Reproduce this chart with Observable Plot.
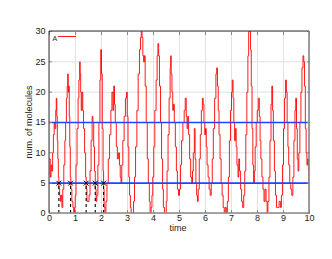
<!DOCTYPE html>
<html>
<head>
<meta charset="utf-8">
<script src="https://cdn.jsdelivr.net/npm/d3@7"></script>
<script src="https://cdn.jsdelivr.net/npm/@observablehq/plot@0.6"></script>
<style>
  html, body { margin: 0; padding: 0; background: #fff; }
  #chart svg { display: block; font-family: "Liberation Sans", Arial, sans-serif; }
</style>
</head>
<body>
<div id="chart"></div>
<script>
// ---- data ----
const times = [0.00,0.03,0.06,0.09,0.12,0.15,0.18,0.21,0.24,0.26,0.28,0.30,0.32,0.34,0.36,0.39,0.42,0.45,0.48,0.51,0.55,0.59,0.62,0.65,0.68,0.70,0.72,0.74,0.76,0.78,0.80,0.82,0.86,0.90,0.93,0.96,0.99,
1.02,1.06,1.10,1.13,1.16,1.18,1.20,1.22,1.25,1.28,1.31,1.35,1.39,1.41,1.44,1.48,1.52,1.56,1.60,1.64,1.67,1.70,1.73,1.76,1.79,1.82,1.86,1.90,1.94,1.97,
2.00,2.03,2.06,2.08,2.10,2.13,2.17,2.21,2.26,2.31,2.36,2.40,2.44,2.47,2.50,2.53,2.57,2.61,2.65,2.69,2.72,2.75,2.78,2.82,2.87,2.92,2.96,2.99,
3.02,3.05,3.08,3.11,3.14,3.19,3.23,3.27,3.31,3.36,3.41,3.46,3.50,3.53,3.56,3.59,3.62,3.65,3.68,3.72,3.76,3.80,3.84,3.87,3.91,3.94,3.97,
4.01,4.05,4.10,4.14,4.17,4.20,4.23,4.27,4.31,4.35,4.38,4.42,4.46,4.49,4.52,4.56,4.60,4.64,4.66,4.68,4.71,4.74,4.77,4.80,4.84,4.88,4.92,4.96,
5.00,5.04,5.08,5.13,5.18,5.22,5.26,5.29,5.32,5.35,5.39,5.43,5.47,5.50,5.53,5.57,5.60,5.63,5.66,5.69,5.72,5.76,5.80,5.84,5.88,5.91,5.94,5.97,
6.00,6.03,6.06,6.10,6.14,6.18,6.22,6.26,6.30,6.35,6.40,6.43,6.46,6.49,6.52,6.56,6.60,6.64,6.68,6.72,6.76,6.80,6.84,6.88,6.92,6.96,
7.00,7.03,7.06,7.09,7.12,7.15,7.18,7.21,7.25,7.28,7.31,7.35,7.39,7.43,7.47,7.51,7.55,7.59,7.63,7.66,7.70,7.73,7.76,7.79,7.82,7.85,7.88,7.91,7.95,7.99,
8.03,8.07,8.10,8.13,8.17,8.21,8.25,8.29,8.33,8.37,8.40,8.44,8.48,8.52,8.55,8.58,8.61,8.65,8.69,8.73,8.78,8.83,8.88,8.92,8.96,
9.00,9.04,9.08,9.11,9.14,9.17,9.20,9.24,9.28,9.32,9.36,9.40,9.44,9.47,9.50,9.53,9.56,9.59,9.63,9.67,9.71,9.75,9.78,9.81,9.84,9.87,9.90,9.93,9.96,9.98,10.00];
const counts = [9,6,8,7,10,13,15,14,17,19,16,12,9,6,4,3,2,3,1,4,8,12,15,19,21,23,20,21,16,11,6,4,2,1,0,1,3,
8,14,19,22,25,23,20,17,20,17,14,10,6,4,2,2,3,7,12,16,15,11,7,4,2,3,8,15,22,27,
23,14,7,4,1,0,2,5,9,13,17,20,17,21,18,15,11,9,10,8,6,5,8,12,16,19,20,16,
11,6,3,1,0,0,2,6,11,17,23,27,29,30,29,26,25,26,21,15,9,5,2,0,1,3,6,
11,17,22,26,28,26,21,15,9,4,1,0,0,2,7,13,19,24,26,23,20,17,18,15,11,7,4,3,
4,8,12,15,17,19,16,14,16,13,9,6,5,7,10,14,9,5,3,2,4,9,13,17,19,18,15,13,
14,11,8,6,4,3,5,9,14,19,23,24,21,17,13,9,5,3,1,0,1,0,2,6,12,17,
20,22,19,15,12,14,11,8,6,9,7,4,2,1,3,7,13,20,26,30,30,27,21,14,8,5,7,11,15,17,
19,16,12,9,6,4,2,4,2,0,2,6,12,18,21,17,12,7,3,1,1,2,1,3,8,
14,19,22,20,15,11,8,5,4,3,6,12,17,19,14,9,7,10,15,20,24,26,25,21,14,10,8,9,7,5,5];
const thresholds = [5, 15];
const passageTimes = [0.36, 0.81, 1.41, 1.76, 2.08];
const passageLevel = 5;
const xTicks = [0,1,2,3,4,5,6,7,8,9,10];
const yTicks = [0,5,10,15,20,25,30];
const seriesName = "A";

const series = times.map((t, i) => ({t, v: counts[i]}));
const passages = passageTimes.map(t => ({t, v: passageLevel}));

const plot = Plot.plot({
  width: 332,
  height: 259,
  marginLeft: 49,
  marginRight: 23,
  marginTop: 31,
  marginBottom: 46,
  style: {fontSize: "9px", fontFamily: "Liberation Sans, Arial, sans-serif", color: "#222"},
  x: {domain: [0, 10]},
  y: {domain: [0, 30]},
  marks: [
    Plot.ruleX(xTicks, {stroke: "#e2e2e2", strokeWidth: 1}),
    Plot.ruleY(yTicks, {stroke: "#e2e2e2", strokeWidth: 1}),
    Plot.line(series, {x: "t", y: "v", curve: "step-after", stroke: "#ff0000", strokeWidth: 0.9, clip: true}),
    Plot.ruleY(thresholds, {stroke: "#1e46ff", strokeWidth: 1.6}),
    Plot.ruleX(passages, {x: "t", y1: 0, y2: "v", stroke: "#000", strokeWidth: 1.1, strokeDasharray: "3,3"}),
    Plot.dot(passages, {x: "t", y: "v", symbol: "times", r: 2.3, stroke: "#000", strokeWidth: 1}),
    // frame
    Plot.axisX(xTicks, {anchor: "bottom", tickSize: 0, tickPadding: 1, label: null, fontSize: 9}),
    Plot.axisX(xTicks, {anchor: "bottom", tickSize: -3, tickFormat: () => "", label: null, stroke: "#888"}),
    Plot.axisX(xTicks, {anchor: "top", tickSize: -3, tickFormat: () => "", label: null, stroke: "#888"}),
    Plot.axisY(yTicks, {anchor: "left", tickSize: 0, tickPadding: 4, label: null, fontSize: 9}),
    Plot.axisY(yTicks, {anchor: "left", tickSize: -3, tickFormat: () => "", label: null, stroke: "#888"}),
    Plot.axisY(yTicks, {anchor: "right", tickSize: -3, tickFormat: () => "", label: null, stroke: "#888"}),
    Plot.text([seriesName], {frameAnchor: "top-left", dx: 3, dy: 5, fontSize: 7, fill: "#222", textAnchor: "start"}),
  ]
});

const svg = d3.select(plot);
// frame lines
svg.append("line").attr("x1", 49).attr("x2", 309).attr("y1", 31).attr("y2", 31).attr("stroke", "#333").attr("stroke-width", 1);
svg.append("line").attr("x1", 49).attr("x2", 49).attr("y1", 31).attr("y2", 213).attr("stroke", "#333").attr("stroke-width", 1);
svg.append("line").attr("x1", 49).attr("x2", 310).attr("y1", 213).attr("y2", 213).attr("stroke", "#888").attr("stroke-width", 1.6);
svg.append("line").attr("x1", 309).attr("x2", 309).attr("y1", 31).attr("y2", 214).attr("stroke", "#888").attr("stroke-width", 1.6);
// legend sample line
svg.append("line").attr("x1", 58).attr("x2", 76).attr("y1", 36.5).attr("y2", 36.5).attr("stroke", "#ff0000").attr("stroke-width", 0.9);
// axis labels
svg.append("text").attr("x", 178).attr("y", 231).attr("text-anchor", "middle").attr("font-size", 9).attr("fill", "#222").text("time");
svg.append("text").attr("transform", "translate(32,122) rotate(-90)").attr("text-anchor", "middle").attr("font-size", 9).attr("fill", "#222").text("num. of molecules");

document.getElementById("chart").appendChild(plot);
</script>
</body>
</html>
